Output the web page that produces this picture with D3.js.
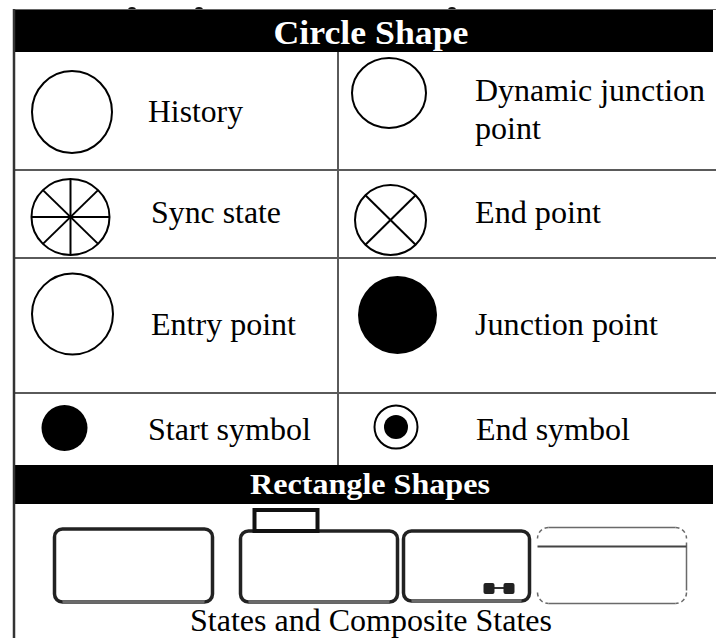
<!DOCTYPE html>
<html><head><meta charset="utf-8">
<script src="https://cdn.jsdelivr.net/npm/d3@7"></script>
<style>html,body{margin:0;padding:0;background:#fff;}svg{display:block;}</style>
</head><body>
<svg id="c" width="716" height="638"></svg>
<script>
// ---- data ----
const headers = ["Circle Shape", "Rectangle Shapes"];
const leftLabels = [["History"], ["Sync state"], ["Entry point"], ["Start symbol"]];
const rightLabels = [["Dynamic junction", "point"], ["End point"], ["Junction point"], ["End symbol"]];
const leftShapes = ["circle", "sync", "circle", "dot"];
const rightShapes = ["ellipse", "cross", "filled", "target"];
const rectKinds = ["state", "tabbed", "composite", "dashed"];
const rectCaption = "States and Composite States";

// ---- layout ----
const svg = d3.select("#c");
const font = "'Liberation Serif', Times, 'Times New Roman', serif";
const L = 14, R = 713, MID = 338;
const rowEdges = [52, 170, 258, 393, 465];

// cropped marks from content above the table
svg.selectAll("ellipse.top").data([132, 199, 452]).join("ellipse").attr("class", "top")
  .attr("cx", d => d).attr("cy", 10).attr("rx", 4).attr("ry", 3).attr("fill", "#111");

// header bars
const headerBoxes = [{y0: 9, y1: 52, base: 44, size: 33, w: 195}, {y0: 465, y1: 504, base: 494, size: 29, w: 240}];
svg.selectAll("rect.hdr").data(headers).join("rect").attr("class", "hdr")
  .attr("x", L).attr("width", R - L)
  .attr("y", (d, i) => headerBoxes[i].y0).attr("height", (d, i) => headerBoxes[i].y1 - headerBoxes[i].y0)
  .attr("fill", "#000");
svg.append("line").attr("x1", L).attr("x2", 716).attr("y1", 9.5).attr("y2", 9.5).attr("stroke", "#666").attr("stroke-width", 1);
svg.selectAll("text.hdr").data(headers).join("text").attr("class", "hdr")
  .attr("x", (d, i) => i === 0 ? 371 : 370).attr("y", (d, i) => headerBoxes[i].base)
  .attr("text-anchor", "middle").attr("fill", "#fff").attr("font-family", font)
  .attr("font-weight", "bold").attr("font-size", (d, i) => headerBoxes[i].size)
  .attr("textLength", (d, i) => headerBoxes[i].w).attr("lengthAdjust", "spacingAndGlyphs")
  .text(d => d);

// grid lines
const lineCol = "#5a5a5a";
svg.selectAll("line.row").data(rowEdges.slice(1, 4)).join("line").attr("class", "row")
  .attr("x1", L).attr("x2", 716).attr("y1", d => d).attr("y2", d => d)
  .attr("stroke", lineCol).attr("stroke-width", 2);
svg.append("line").attr("x1", MID).attr("x2", MID).attr("y1", 52).attr("y2", 465)
  .attr("stroke", lineCol).attr("stroke-width", 2);
svg.append("line").attr("x1", L).attr("x2", L).attr("y1", 9).attr("y2", 638)
  .attr("stroke", "#333").attr("stroke-width", 2.5);

// ---- shapes ----
const shapeGeom = {
  left: [{cx: 72, cy: 112, rx: 40, ry: 41}, {cx: 70.5, cy: 217, rx: 39, ry: 38}, {cx: 72.5, cy: 314, rx: 40.5, ry: 40.5}, {cx: 64.5, cy: 428, rx: 23, ry: 23}],
  right: [{cx: 389, cy: 93, rx: 37, ry: 35}, {cx: 390.5, cy: 220, rx: 35.5, ry: 35}, {cx: 397.5, cy: 315, rx: 39.5, ry: 39}, {cx: 396, cy: 427, rx: 22.5, ry: 22.5}]
};
function drawShape(kind, g) {
  const grp = svg.append("g");
  const sw = 2;
  if (kind === "circle" || kind === "ellipse" || kind === "sync" || kind === "cross") {
    grp.append("ellipse").attr("cx", g.cx).attr("cy", g.cy).attr("rx", g.rx).attr("ry", g.ry)
      .attr("fill", "none").attr("stroke", "#000").attr("stroke-width", sw);
  }
  const spokes = kind === "sync" ? d3.range(0, 180, 45) : kind === "cross" ? [45, 135] : [];
  grp.selectAll("line").data(spokes).join("line")
    .attr("x1", a => g.cx + g.rx * Math.cos(a * Math.PI / 180))
    .attr("y1", a => g.cy + g.ry * Math.sin(a * Math.PI / 180))
    .attr("x2", a => g.cx - g.rx * Math.cos(a * Math.PI / 180))
    .attr("y2", a => g.cy - g.ry * Math.sin(a * Math.PI / 180))
    .attr("stroke", "#000").attr("stroke-width", sw);
  if (kind === "filled" || kind === "dot") {
    grp.append("ellipse").attr("cx", g.cx).attr("cy", g.cy).attr("rx", g.rx).attr("ry", g.ry).attr("fill", "#000");
  }
  if (kind === "target") {
    grp.append("circle").attr("cx", g.cx).attr("cy", g.cy).attr("r", g.rx - 1)
      .attr("fill", "none").attr("stroke", "#000").attr("stroke-width", 2);
    grp.append("circle").attr("cx", g.cx).attr("cy", g.cy).attr("r", 12).attr("fill", "#000");
  }
}
leftShapes.forEach((k, i) => drawShape(k, shapeGeom.left[i]));
rightShapes.forEach((k, i) => drawShape(k, shapeGeom.right[i]));

// ---- labels ----
const leftText = [{x: 148, y: 122, w: [95]}, {x: 151, y: 223, w: [130]}, {x: 151, y: 335, w: [145]}, {x: 148, y: 440, w: [163]}];
const rightText = [{x: 475, y: 101, w: [230, 66]}, {x: 475, y: 223, w: [126]}, {x: 475, y: 335, w: [183]}, {x: 476, y: 440, w: [154]}];
function drawLabels(labels, pos) {
  labels.forEach((lines, i) => {
    svg.append("g").selectAll("text").data(lines).join("text")
      .attr("x", pos[i].x).attr("y", (d, j) => pos[i].y + j * 38)
      .attr("font-family", font).attr("font-size", 31).attr("fill", "#000")
      .attr("textLength", (d, j) => pos[i].w[j]).attr("lengthAdjust", "spacingAndGlyphs")
      .text(d => d);
  });
}
drawLabels(leftLabels, leftText);
drawLabels(rightLabels, rightText);

// ---- rectangle shapes ----
const rectGeom = [{x: 54.5, y: 529, w: 158, h: 73}, {x: 240.5, y: 531, w: 157, h: 71}, {x: 403.5, y: 531, w: 126, h: 70}, {x: 537.5, y: 527.5, w: 149, h: 76}];
rectKinds.forEach((k, i) => {
  const g = rectGeom[i];
  const grp = svg.append("g");
  if (k === "dashed") {
    const r = 11, x0 = g.x, x1 = g.x + g.w, y0 = g.y, y1 = g.y + g.h;
    const edge = "#6a6a6a";
    grp.append("path").attr("fill", "none").attr("stroke", edge).attr("stroke-width", 1.5)
      .attr("d", `M${x0 + r},${y0}H${x1 - r} M${x0 + r},${y1}H${x1 - r} M${x1},${y0 + r + 4}V${y1 - r - 2}`);
    grp.append("path").attr("fill", "none").attr("stroke", edge).attr("stroke-width", 1.5)
      .attr("stroke-dasharray", "4,3")
      .attr("d", `M${x0 + r},${y0}A${r},${r} 0 0 0 ${x0},${y0 + r}` +
                 `M${x1 - r},${y0}A${r},${r} 0 0 1 ${x1},${y0 + r}` +
                 `M${x0},${y1 - r}A${r},${r} 0 0 0 ${x0 + r},${y1}` +
                 `M${x1},${y1 - r}A${r},${r} 0 0 1 ${x1 - r},${y1}`);
    grp.append("line").attr("x1", x0).attr("x2", x1).attr("y1", g.y + 19).attr("y2", g.y + 19)
      .attr("stroke", "#444").attr("stroke-width", 2);
    return;
  }
  grp.append("rect").attr("x", g.x).attr("y", g.y).attr("width", g.w).attr("height", g.h)
    .attr("rx", 8).attr("fill", "none").attr("stroke", "#222").attr("stroke-width", 3.5);
  grp.append("line").attr("x1", g.x + 8).attr("x2", g.x + g.w - 8).attr("y1", g.y + g.h).attr("y2", g.y + g.h)
    .attr("stroke", "#6a6a6a").attr("stroke-width", 3.5);
  if (k === "tabbed") {
    grp.append("rect").attr("x", g.x + 14).attr("y", g.y - 21).attr("width", 63).attr("height", 21)
      .attr("fill", "none").attr("stroke", "#111").attr("stroke-width", 4);
  }
  if (k === "composite") {
    const ix = g.x + g.w - 46, iy = g.y + g.h - 18;
    grp.append("line").attr("x1", ix + 4).attr("x2", ix + 28).attr("y1", iy + 5).attr("y2", iy + 5)
      .attr("stroke", "#333").attr("stroke-width", 2);
    grp.selectAll("rect.ic").data([0, 1]).join("rect").attr("class", "ic")
      .attr("x", d => ix + d * 20).attr("y", iy).attr("width", 11).attr("height", 11)
      .attr("rx", 2).attr("fill", "#222");
  }
});
svg.append("text").attr("x", 371).attr("y", 631).attr("text-anchor", "middle")
  .attr("font-family", font).attr("font-size", 31).attr("fill", "#000")
  .attr("textLength", 362).attr("lengthAdjust", "spacingAndGlyphs").text(rectCaption);
</script>
</body></html>
